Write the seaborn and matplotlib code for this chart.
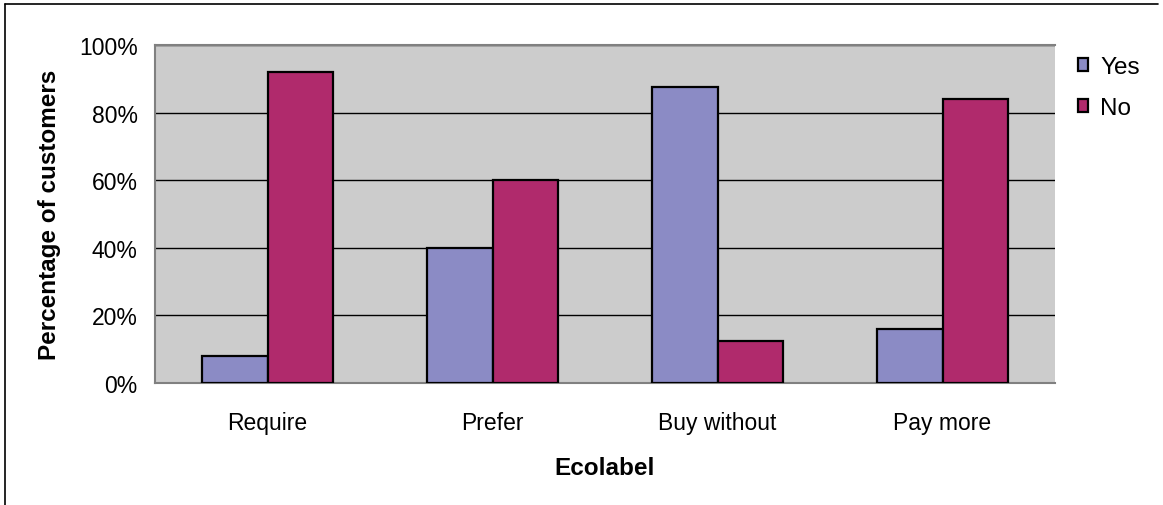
import pandas as pd
import matplotlib.pyplot as plt
import seaborn as sns
from matplotlib.lines import Line2D
from matplotlib.ticker import PercentFormatter

categories = ['Require', 'Prefer', 'Buy without', 'Pay more']
yes_pct = [8, 40, 87.5, 16]
no_pct = [92, 60, 12.5, 84]
answers = ['Yes', 'No']
palette = {'Yes': '#8B8BC5', 'No': '#B02A6C'}

df = pd.DataFrame({
    'Ecolabel': categories * 2,
    'Answer': ['Yes'] * len(categories) + ['No'] * len(categories),
    'Percent': yes_pct + no_pct,
})

sns.set_style('white')
plt.rcParams['font.family'] = ['Liberation Sans', 'DejaVu Sans']
plt.rcParams['text.color'] = 'black'
plt.rcParams['axes.labelcolor'] = 'black'
plt.rcParams['xtick.labelcolor'] = 'black'
plt.rcParams['ytick.labelcolor'] = 'black'

W, H = 1163, 506
fig = plt.figure(figsize=(W / 100, H / 100), dpi=100)
ax = fig.add_axes([155 / W, 122 / H, 900 / W, 338 / H])
ax.set_facecolor('#CCCCCC')

sns.barplot(data=df, x='Ecolabel', y='Percent', hue='Answer', order=categories,
            hue_order=answers, palette=palette, width=0.58, saturation=1,
            edgecolor='black', linewidth=1.6, ax=ax, zorder=3)

ax.set_ylim(0, 100)
ax.set_xlim(-0.5, len(categories) - 0.5)
ax.set_yticks(range(0, 101, 20))
ax.yaxis.set_major_formatter(PercentFormatter(decimals=0))
ax.yaxis.grid(True, color='black', linewidth=1, zorder=1)
ax.set_axisbelow(True)

ax.set_xticks(range(len(categories)))
ax.set_xticklabels(categories)
ax.set_xticks([i - 0.5 for i in range(len(categories) + 1)], minor=True)
ax.tick_params(axis='x', which='major', length=0, pad=20, labelsize=16.5,
               labelcolor='black')
ax.tick_params(axis='x', which='minor', length=6, width=1, color='#808080', direction='out')
ax.tick_params(axis='y', length=4.5, width=1, color='#808080', direction='out',
               labelsize=16.5, pad=8, labelcolor='black')

for side in ['left', 'bottom', 'top']:
    ax.spines[side].set_color('#808080')
    ax.spines[side].set_linewidth(1.5)
ax.spines['right'].set_visible(False)

ax.set_xlabel('Ecolabel', fontsize=17.5, fontweight='bold', labelpad=16, color='black')
ax.set_ylabel('Percentage of customers', fontsize=17.5, fontweight='bold', labelpad=13,
              color='black')

handles, labels = ax.get_legend_handles_labels()
leg = ax.legend(handles, labels, loc='upper left', bbox_to_anchor=(1078 / W, 1 - 57 / H),
                bbox_transform=fig.transFigure, frameon=False, fontsize=17.5,
                handlelength=0.42, handleheight=0.42, handletextpad=0.5,
                labelspacing=0.78, borderpad=0, borderaxespad=0)
for t in leg.get_texts():
    t.set_color('black')

# outer chart frame (only top and left edges show in the picture)
fig.add_artist(Line2D([5 / W, 5 / W], [0, 1 - 5 / H], transform=fig.transFigure,
                      color='black', linewidth=1.2))
fig.add_artist(Line2D([5 / W, 1158 / W], [1 - 5 / H, 1 - 5 / H], transform=fig.transFigure,
                      color='black', linewidth=1.2))

fig.savefig('out.png', dpi=100)
